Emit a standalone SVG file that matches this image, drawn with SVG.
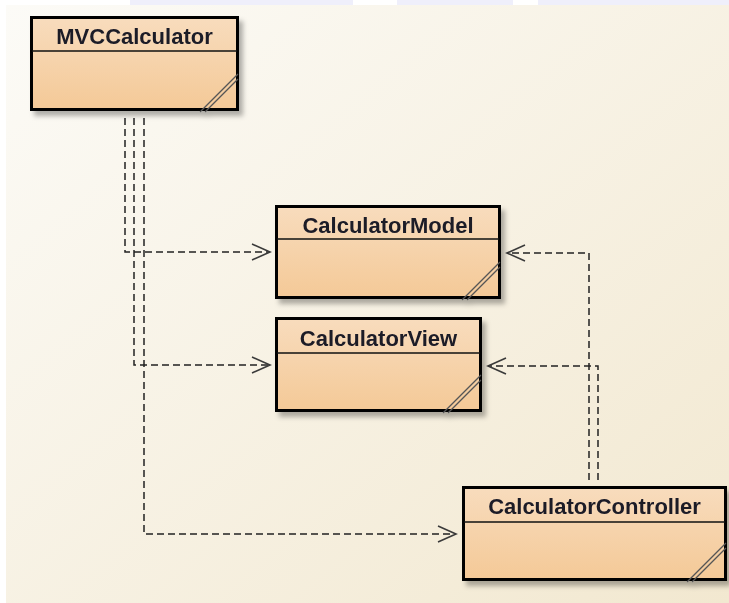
<svg xmlns="http://www.w3.org/2000/svg" width="729" height="603" viewBox="0 0 729 603">
  <defs>
    <linearGradient id="bg" x1="0" y1="0" x2="1" y2="1">
      <stop offset="0" stop-color="#fcfbf7"/>
      <stop offset="1" stop-color="#f2e8d0"/>
    </linearGradient>
    <linearGradient id="boxfill" x1="0" y1="0" x2="0" y2="1">
      <stop offset="0" stop-color="#f8dcbd"/>
      <stop offset="1" stop-color="#f4c997"/>
    </linearGradient>
    <filter id="shadow" x="-10%" y="-10%" width="130%" height="140%">
      <feDropShadow dx="4" dy="5" stdDeviation="2.5" flood-color="#000" flood-opacity="0.3"/>
    </filter>
    <marker id="arrow" markerUnits="userSpaceOnUse" markerWidth="24" markerHeight="20" refX="20" refY="10" orient="auto">
      <path d="M 2 2 L 20 10 L 2 18" fill="none" stroke="#3a3a3a" stroke-width="1.6" stroke-dasharray="none"/>
    </marker>
  </defs>
  <style>
    .box { fill: url(#boxfill); stroke: #000; stroke-width: 3; }
    .div { stroke: #111; stroke-width: 1.5; }
    .hatch { stroke: #555; stroke-width: 1.3; fill: none; }
    .label { font-family: "Liberation Sans", Arial, sans-serif; font-weight: bold; font-size: 22px; fill: #1a1a28; text-anchor: middle; }
    .conn { fill: none; stroke: #222; stroke-width: 1.5; stroke-dasharray: 7 4; marker-end: url(#arrow); }
  </style>

  <!-- background -->
  <rect x="0" y="0" width="729" height="603" fill="#ffffff"/>
  <rect x="0" y="0" width="729" height="5" fill="#efeffb"/>
  <rect x="0" y="0" width="130" height="5" fill="#ffffff"/>
  <rect x="353" y="0" width="44" height="5" fill="#ffffff"/>
  <rect x="513" y="0" width="25" height="5" fill="#ffffff"/>
  <rect x="6" y="5" width="723" height="598" fill="url(#bg)"/>

  <!-- connectors -->
  <g id="connectors">
    <path class="conn" d="M 125 118 V 252 H 270"/>
    <path class="conn" d="M 134 118 V 365 H 270"/>
    <path class="conn" d="M 144 118 V 534 H 456"/>
    <path class="conn" d="M 589 480 V 253 H 507"/>
    <path class="conn" d="M 598 480 V 366 H 488"/>
  </g>

  <!-- nodes -->
  <g id="MVCCalculator" filter="url(#shadow)">
    <rect class="box" x="31.5" y="17.5" width="206" height="92"/>
    <line class="div" x1="31.5" y1="51" x2="237.5" y2="51"/>
    <text class="label" x="134.5" y="44">MVCCalculator</text>
    <path class="hatch" d="M 200 112 L 238 74 M 205 112 L 238 79"/>
  </g>

  <g id="CalculatorModel" filter="url(#shadow)">
    <rect class="box" x="276.5" y="206.5" width="223" height="91"/>
    <line class="div" x1="276.5" y1="239" x2="499.5" y2="239"/>
    <text class="label" x="388" y="233">CalculatorModel</text>
    <path class="hatch" d="M 462 300 L 500 262 M 467 300 L 500 267"/>
  </g>

  <g id="CalculatorView" filter="url(#shadow)">
    <rect class="box" x="276.5" y="318.5" width="204" height="92"/>
    <line class="div" x1="276.5" y1="353" x2="480.5" y2="353"/>
    <text class="label" x="378.5" y="346">CalculatorView</text>
    <path class="hatch" d="M 443 413 L 481 375 M 448 413 L 481 380"/>
  </g>

  <g id="CalculatorController" filter="url(#shadow)">
    <rect class="box" x="463.5" y="487.5" width="262" height="92"/>
    <line class="div" x1="463.5" y1="522" x2="725.5" y2="522"/>
    <text class="label" x="594.5" y="514">CalculatorController</text>
    <path class="hatch" d="M 687 582 L 726 543 M 692 582 L 726 548"/>
  </g>
</svg>
